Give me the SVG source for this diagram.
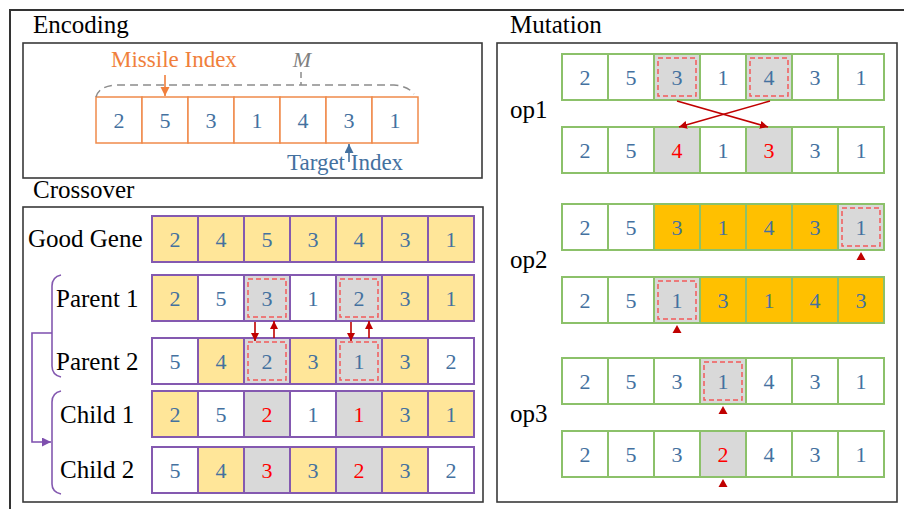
<svg xmlns="http://www.w3.org/2000/svg" width="904" height="509" viewBox="0 0 904 509">
<style>
text{font-family:"Liberation Serif","Times New Roman",serif}
.t{font-size:25px;fill:#000}
.n{font-size:22px;fill:#44719F;text-anchor:middle}
.r{fill:#FF0000}
.box{fill:#fff;stroke:#3a3a3a;stroke-width:1.6}
.p rect{stroke:#8459B0;stroke-width:2}
.gr rect{stroke:#8CC16A;stroke-width:2}
.oc rect{stroke:#F08A4B;stroke-width:1.5;fill:#fff}
.y{fill:#FFE699}.w{fill:#fff}.g{fill:#D9D9D9}.o{fill:#FFC000}
g rect.d{fill:none;stroke:#F25A5A;stroke-width:1.5;stroke-dasharray:5 3}
.ar{stroke:#C00000;stroke-width:1.6;fill:none}
.tri{fill:#C00000}
</style>
<defs>
<marker id="mr" markerUnits="userSpaceOnUse" markerWidth="9" markerHeight="9" refX="8" refY="4" orient="auto"><path d="M0,0 L8,4 L0,8 z" fill="#C00000"/></marker>
<marker id="mo" markerUnits="userSpaceOnUse" markerWidth="10" markerHeight="10" refX="9" refY="4.5" orient="auto"><path d="M0,0 L9,4.5 L0,9 z" fill="#F07F3C"/></marker>
<marker id="mb" markerUnits="userSpaceOnUse" markerWidth="10" markerHeight="10" refX="9" refY="4.5" orient="auto"><path d="M0,0 L9,4.5 L0,9 z" fill="#44719F"/></marker>
<marker id="mp" markerUnits="userSpaceOnUse" markerWidth="10" markerHeight="10" refX="9" refY="4.5" orient="auto"><path d="M0,0 L9,4.5 L0,9 z" fill="#7E4FAE"/></marker>
</defs>
<rect width="904" height="509" fill="#fff"/>
<path d="M10,509 L10,10 L904,10" fill="none" stroke="#333" stroke-width="2"/>

<g id="encoding">
<text class="t" x="33" y="33">Encoding</text>
<rect class="box" x="23" y="43" width="459" height="135"/>
<g class="oc">
<rect x="96" y="97" width="46" height="46"/><rect x="142" y="97" width="46" height="46"/><rect x="188" y="97" width="46" height="46"/><rect x="234" y="97" width="46" height="46"/><rect x="280" y="97" width="46" height="46"/><rect x="326" y="97" width="46" height="46"/><rect x="372" y="97" width="46" height="46"/>
</g>
<text class="n" x="119" y="128">2</text><text class="n" x="165" y="128">5</text><text class="n" x="211" y="128">3</text><text class="n" x="257" y="128">1</text><text class="n" x="303" y="128">4</text><text class="n" x="349" y="128">3</text><text class="n" x="395" y="128">1</text>
<path d="M96,97 Q99,86 116,85 L394,85 Q408,86 414,94" fill="none" stroke="#8C8C8C" stroke-width="1.5" stroke-dasharray="8 5"/>
<line x1="301" y1="72" x2="301" y2="85" stroke="#8C8C8C" stroke-width="1.5" stroke-dasharray="6 4"/>
<text x="302" y="67" font-size="22" font-style="italic" fill="#808080" text-anchor="middle">M</text>
<text x="111" y="67" font-size="23" fill="#F07F3C">Missile Index</text>
<text x="287" y="170" font-size="23" fill="#44719F">Target Index</text>
</g>

<g id="crossover">
<text class="t" x="33" y="198">Crossover</text>
<rect class="box" x="23" y="207" width="460" height="295"/>
<text class="t" x="28" y="247">Good Gene</text>
<text class="t" x="56" y="307">Parent 1</text>
<text class="t" x="56" y="370">Parent 2</text>
<text class="t" x="60" y="423">Child 1</text>
<text class="t" x="60" y="478">Child 2</text>
</g>

<g id="good-gene" class="p">
<rect class="y" x="152" y="216" width="46" height="46"/><rect class="y" x="198" y="216" width="46" height="46"/><rect class="y" x="244" y="216" width="46" height="46"/><rect class="y" x="290" y="216" width="46" height="46"/><rect class="y" x="336" y="216" width="46" height="46"/><rect class="y" x="382" y="216" width="46" height="46"/><rect class="y" x="428" y="216" width="46" height="46"/>
<text class="n" x="175" y="247">2</text><text class="n" x="221" y="247">4</text><text class="n" x="267" y="247">5</text><text class="n" x="313" y="247">3</text><text class="n" x="359" y="247">4</text><text class="n" x="405" y="247">3</text><text class="n" x="451" y="247">1</text>
</g>

<g id="parent1" class="p">
<rect class="y" x="152" y="275" width="46" height="46"/><rect class="w" x="198" y="275" width="46" height="46"/><rect class="g" x="244" y="275" width="46" height="46"/><rect class="w" x="290" y="275" width="46" height="46"/><rect class="g" x="336" y="275" width="46" height="46"/><rect class="y" x="382" y="275" width="46" height="46"/><rect class="y" x="428" y="275" width="46" height="46"/>
<rect class="d" x="248" y="279" width="38" height="38"/><rect class="d" x="340" y="279" width="38" height="38"/>
<text class="n" x="175" y="306">2</text><text class="n" x="221" y="306">5</text><text class="n" x="267" y="306">3</text><text class="n" x="313" y="306">1</text><text class="n" x="359" y="306">2</text><text class="n" x="405" y="306">3</text><text class="n" x="451" y="306">1</text>
</g>

<g id="parent2" class="p">
<rect class="w" x="152" y="338" width="46" height="46"/><rect class="y" x="198" y="338" width="46" height="46"/><rect class="g" x="244" y="338" width="46" height="46"/><rect class="y" x="290" y="338" width="46" height="46"/><rect class="g" x="336" y="338" width="46" height="46"/><rect class="y" x="382" y="338" width="46" height="46"/><rect class="w" x="428" y="338" width="46" height="46"/>
<rect class="d" x="248" y="342" width="38" height="38"/><rect class="d" x="340" y="342" width="38" height="38"/>
<text class="n" x="175" y="369">5</text><text class="n" x="221" y="369">4</text><text class="n" x="267" y="369">2</text><text class="n" x="313" y="369">3</text><text class="n" x="359" y="369">1</text><text class="n" x="405" y="369">3</text><text class="n" x="451" y="369">2</text>
</g>

<g id="child1" class="p">
<rect class="y" x="152" y="391" width="46" height="46"/><rect class="w" x="198" y="391" width="46" height="46"/><rect class="g" x="244" y="391" width="46" height="46"/><rect class="w" x="290" y="391" width="46" height="46"/><rect class="g" x="336" y="391" width="46" height="46"/><rect class="y" x="382" y="391" width="46" height="46"/><rect class="y" x="428" y="391" width="46" height="46"/>
<text class="n" x="175" y="422">2</text><text class="n" x="221" y="422">5</text><text class="n r" x="267" y="422">2</text><text class="n" x="313" y="422">1</text><text class="n r" x="359" y="422">1</text><text class="n" x="405" y="422">3</text><text class="n" x="451" y="422">1</text>
</g>

<g id="child2" class="p">
<rect class="w" x="152" y="447" width="46" height="46"/><rect class="y" x="198" y="447" width="46" height="46"/><rect class="g" x="244" y="447" width="46" height="46"/><rect class="y" x="290" y="447" width="46" height="46"/><rect class="g" x="336" y="447" width="46" height="46"/><rect class="y" x="382" y="447" width="46" height="46"/><rect class="w" x="428" y="447" width="46" height="46"/>
<text class="n" x="175" y="478">5</text><text class="n" x="221" y="478">4</text><text class="n r" x="267" y="478">3</text><text class="n" x="313" y="478">3</text><text class="n r" x="359" y="478">2</text><text class="n" x="405" y="478">3</text><text class="n" x="451" y="478">2</text>
</g>

<g id="mutation">
<text class="t" x="510" y="33">Mutation</text>
<rect class="box" x="497" y="43" width="400" height="459"/>
<text class="t" x="510" y="118">op1</text>
<text class="t" x="510" y="268">op2</text>
<text class="t" x="510" y="422">op3</text>
</g>

<g id="op1-before" class="gr">
<rect class="w" x="562" y="54" width="46" height="46"/><rect class="w" x="608" y="54" width="46" height="46"/><rect class="g" x="654" y="54" width="46" height="46"/><rect class="w" x="700" y="54" width="46" height="46"/><rect class="g" x="746" y="54" width="46" height="46"/><rect class="w" x="792" y="54" width="46" height="46"/><rect class="w" x="838" y="54" width="46" height="46"/>
<rect class="d" x="658" y="58" width="38" height="38"/><rect class="d" x="750" y="58" width="38" height="38"/>
<text class="n" x="585" y="85">2</text><text class="n" x="631" y="85">5</text><text class="n" x="677" y="85">3</text><text class="n" x="723" y="85">1</text><text class="n" x="769" y="85">4</text><text class="n" x="815" y="85">3</text><text class="n" x="861" y="85">1</text>
</g>
<g id="op1-after" class="gr">
<rect class="w" x="562" y="127" width="46" height="46"/><rect class="w" x="608" y="127" width="46" height="46"/><rect class="g" x="654" y="127" width="46" height="46"/><rect class="w" x="700" y="127" width="46" height="46"/><rect class="g" x="746" y="127" width="46" height="46"/><rect class="w" x="792" y="127" width="46" height="46"/><rect class="w" x="838" y="127" width="46" height="46"/>
<text class="n" x="585" y="158">2</text><text class="n" x="631" y="158">5</text><text class="n r" x="677" y="158">4</text><text class="n" x="723" y="158">1</text><text class="n r" x="769" y="158">3</text><text class="n" x="815" y="158">3</text><text class="n" x="861" y="158">1</text>
</g>

<g id="op2-before" class="gr">
<rect class="w" x="562" y="204" width="46" height="46"/><rect class="w" x="608" y="204" width="46" height="46"/><rect class="o" x="654" y="204" width="46" height="46"/><rect class="o" x="700" y="204" width="46" height="46"/><rect class="o" x="746" y="204" width="46" height="46"/><rect class="o" x="792" y="204" width="46" height="46"/><rect class="g" x="838" y="204" width="46" height="46"/>
<rect class="d" x="842" y="208" width="38" height="38"/>
<text class="n" x="585" y="235">2</text><text class="n" x="631" y="235">5</text><text class="n" x="677" y="235">3</text><text class="n" x="723" y="235">1</text><text class="n" x="769" y="235">4</text><text class="n" x="815" y="235">3</text><text class="n" x="861" y="235">1</text>
</g>
<g id="op2-after" class="gr">
<rect class="w" x="562" y="277" width="46" height="46"/><rect class="w" x="608" y="277" width="46" height="46"/><rect class="g" x="654" y="277" width="46" height="46"/><rect class="o" x="700" y="277" width="46" height="46"/><rect class="o" x="746" y="277" width="46" height="46"/><rect class="o" x="792" y="277" width="46" height="46"/><rect class="o" x="838" y="277" width="46" height="46"/>
<rect class="d" x="658" y="281" width="38" height="38"/>
<text class="n" x="585" y="308">2</text><text class="n" x="631" y="308">5</text><text class="n" x="677" y="308">1</text><text class="n" x="723" y="308">3</text><text class="n" x="769" y="308">1</text><text class="n" x="815" y="308">4</text><text class="n" x="861" y="308">3</text>
</g>

<g id="op3-before" class="gr">
<rect class="w" x="562" y="358" width="46" height="46"/><rect class="w" x="608" y="358" width="46" height="46"/><rect class="w" x="654" y="358" width="46" height="46"/><rect class="g" x="700" y="358" width="46" height="46"/><rect class="w" x="746" y="358" width="46" height="46"/><rect class="w" x="792" y="358" width="46" height="46"/><rect class="w" x="838" y="358" width="46" height="46"/>
<rect class="d" x="704" y="362" width="38" height="38"/>
<text class="n" x="585" y="389">2</text><text class="n" x="631" y="389">5</text><text class="n" x="677" y="389">3</text><text class="n" x="723" y="389">1</text><text class="n" x="769" y="389">4</text><text class="n" x="815" y="389">3</text><text class="n" x="861" y="389">1</text>
</g>
<g id="op3-after" class="gr">
<rect class="w" x="562" y="431" width="46" height="46"/><rect class="w" x="608" y="431" width="46" height="46"/><rect class="w" x="654" y="431" width="46" height="46"/><rect class="g" x="700" y="431" width="46" height="46"/><rect class="w" x="746" y="431" width="46" height="46"/><rect class="w" x="792" y="431" width="46" height="46"/><rect class="w" x="838" y="431" width="46" height="46"/>
<text class="n" x="585" y="462">2</text><text class="n" x="631" y="462">5</text><text class="n" x="677" y="462">3</text><text class="n r" x="723" y="462">2</text><text class="n" x="769" y="462">4</text><text class="n" x="815" y="462">3</text><text class="n" x="861" y="462">1</text>
</g>

<g id="connectors">
<line x1="165" y1="75" x2="165" y2="96" stroke="#F07F3C" stroke-width="1.6" marker-end="url(#mo)"/>
<line x1="349" y1="162" x2="349" y2="144" stroke="#44719F" stroke-width="1.6" marker-end="url(#mb)"/>
<path d="M61,275 Q52,277 52,286 L52,366 Q52,375 61,377" fill="none" stroke="#8459B0" stroke-width="1.6"/>
<path d="M61,391 Q52,393 52,402 L52,484 Q52,492 61,494" fill="none" stroke="#8459B0" stroke-width="1.6"/>
<path d="M52,333 L32,333 L32,442 L51,442" fill="none" stroke="#7E4FAE" stroke-width="1.6" marker-end="url(#mp)"/>
<line class="ar" x1="255" y1="322" x2="255" y2="341" marker-end="url(#mr)"/>
<line class="ar" x1="274" y1="338" x2="274" y2="321" marker-end="url(#mr)"/>
<line class="ar" x1="351" y1="322" x2="351" y2="341" marker-end="url(#mr)"/>
<line class="ar" x1="369" y1="338" x2="369" y2="321" marker-end="url(#mr)"/>
<line class="ar" x1="677" y1="101" x2="768" y2="127" marker-end="url(#mr)"/>
<line class="ar" x1="770" y1="101" x2="679" y2="127" marker-end="url(#mr)"/>
<polygon class="tri" points="861,252 865.5,260 856.5,260"/>
<polygon class="tri" points="677,325 681.5,333 672.5,333"/>
<polygon class="tri" points="723,406 727.5,414 718.5,414"/>
<polygon class="tri" points="723,479 727.5,487 718.5,487"/>
</g>
</svg>
